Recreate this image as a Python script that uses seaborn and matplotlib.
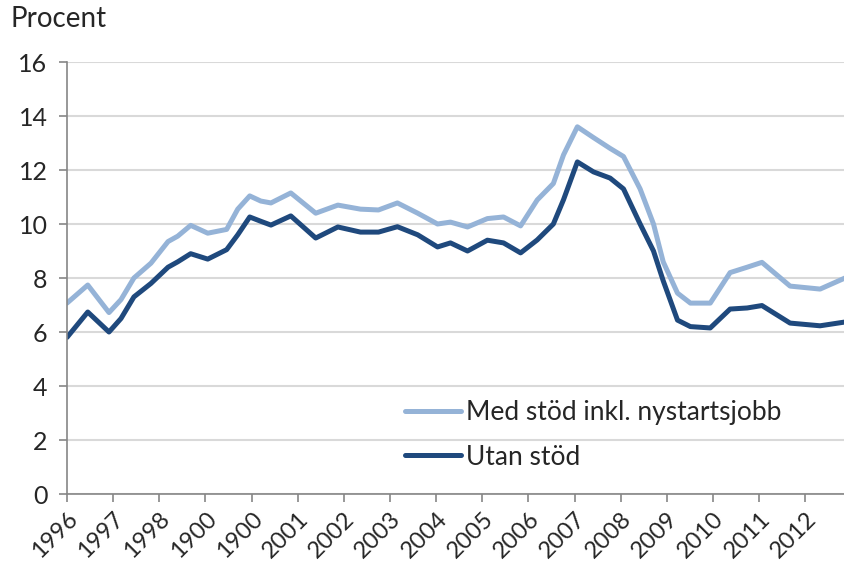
import pandas as pd
import numpy as np
import seaborn as sns
from matplotlib import pyplot as plt

"""Data read off the chart"""
year_pos = [1996.0, 1996.45, 1996.91, 1997.17, 1997.45, 1997.82, 1998.19, 1998.40, 1998.68,
            1999.05, 1999.46, 1999.70, 1999.96, 2000.20, 2000.42, 2000.85, 2001.39, 2001.87,
            2002.36, 2002.75, 2003.16, 2003.60, 2004.03, 2004.31, 2004.68, 2005.11, 2005.46,
            2005.83, 2006.19, 2006.54, 2006.76, 2007.06, 2007.41, 2007.77, 2008.06, 2008.42,
            2008.71, 2008.92, 2009.23, 2009.51, 2009.94, 2010.37, 2010.74, 2011.06, 2011.67,
            2012.32, 2012.86]
med_stod = [7.07, 7.74, 6.72, 7.2, 8.0, 8.55, 9.35, 9.55, 9.95,
            9.66, 9.8, 10.55, 11.04, 10.85, 10.78, 11.15, 10.4, 10.7,
            10.55, 10.52, 10.78, 10.4, 10.0, 10.07, 9.89, 10.2, 10.26,
            9.93, 10.89, 11.5, 12.56, 13.6, 13.2, 12.8, 12.5, 11.3,
            10.0, 8.6, 7.44, 7.07, 7.07, 8.2, 8.4, 8.58, 7.7,
            7.59, 8.0]
utan_stod = [5.8, 6.74, 6.0, 6.5, 7.3, 7.8, 8.4, 8.6, 8.9,
             8.7, 9.05, 9.6, 10.26, 10.1, 9.96, 10.3, 9.48, 9.89,
             9.7, 9.7, 9.9, 9.6, 9.15, 9.3, 9.0, 9.4, 9.3,
             8.93, 9.41, 10.0, 10.9, 12.3, 11.93, 11.7, 11.3, 10.0,
             9.0, 7.9, 6.44, 6.2, 6.15, 6.85, 6.89, 6.98, 6.33,
             6.23, 6.37]
tick_years = list(range(1996, 2013))
tick_labels = ['1996', '1997', '1998', '1900', '1900', '2001', '2002', '2003', '2004',
               '2005', '2006', '2007', '2008', '2009', '2010', '2011', '2012']
serie_names = ['Med stöd inkl. nystartsjobb', 'Utan stöd']

df = pd.concat([
    pd.DataFrame({'År': year_pos, 'Procent': med_stod, 'Serie': serie_names[0]}),
    pd.DataFrame({'År': year_pos, 'Procent': utan_stod, 'Serie': serie_names[1]}),
])

sns.set_style('white')
plt.rcParams['font.family'] = ['Lato', 'DejaVu Sans']

fig = plt.figure(figsize=(8.45, 5.72), dpi=100)
ax = fig.add_axes([67 / 845, 1 - 494 / 572, 1 - 67 / 845, (494 - 62) / 572])

sns.lineplot(data=df, x='År', y='Procent', hue='Serie', ax=ax,
             palette=['#95B3D7', '#1F497D'], linewidth=3.6, sort=False)

ax.set_xlim(1996, 2012.86)
ax.set_ylim(0, 16)
ax.set_yticks(range(0, 17, 2))
ax.set_xticks(tick_years)
ax.set_xticklabels(tick_labels, rotation=45, ha='right', va='top', rotation_mode='anchor')
ax.set_xlabel('')
ax.set_ylabel('')
ax.yaxis.grid(True, color='#d9d9d9', linewidth=1.5)
ax.xaxis.grid(False)
ax.set_axisbelow(True)
for s in ['top', 'right']:
    ax.spines[s].set_visible(False)
for s in ['left', 'bottom']:
    ax.spines[s].set_color('#868686')
    ax.spines[s].set_linewidth(1.2)
ax.tick_params(axis='y', direction='out', length=6, width=1.2, color='#868686',
               labelsize=18, pad=8, left=True)
ax.tick_params(axis='x', direction='out', length=6, width=1.2, color='#868686',
               labelsize=17, pad=4, bottom=True)

ax.legend(loc='center left', bbox_to_anchor=(0.435, 0.137), frameon=False,
          fontsize=19, handlelength=2.1, handletextpad=0.2, labelspacing=0.75,
          borderpad=0, borderaxespad=0)

fig.text(0.012, 0.99, 'Procent', fontsize=20, va='top', ha='left')

"""Сохранение"""
fig.savefig('out.png', dpi=100)
